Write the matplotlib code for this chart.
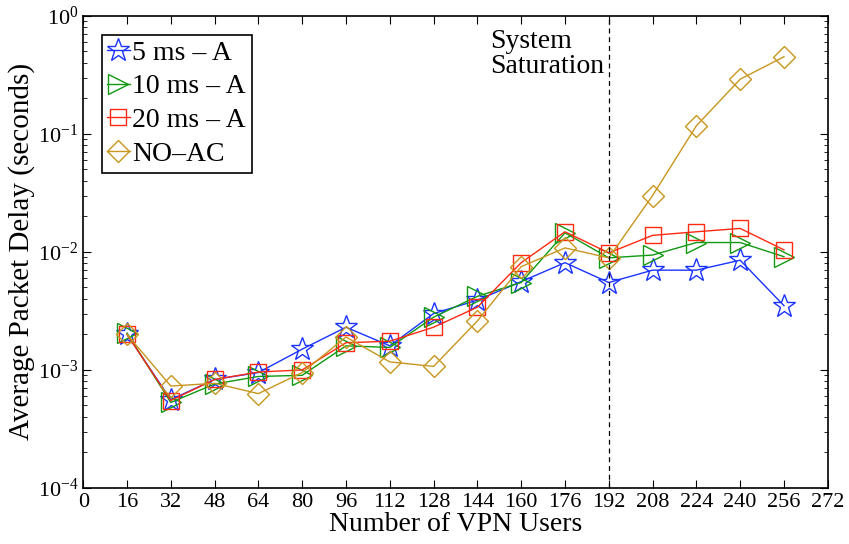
import numpy as np
import matplotlib.pyplot as plt

plt.rcParams['font.family'] = ['Liberation Serif', 'DejaVu Serif']
plt.rcParams['mathtext.fontset'] = 'stix'

# data
users = [16, 32, 48, 64, 80, 96, 112, 128, 144, 160, 176, 192, 208, 224, 240, 256]
delay_5ms = [2.0e-3, 5.6e-4, 8.3e-4, 9.5e-4, 1.5e-3, 2.3e-3, 1.6e-3, 3.0e-3, 3.9e-3,
             5.6e-3, 8.1e-3, 5.5e-3, 7.0e-3, 7.0e-3, 8.5e-3, 3.5e-3]
delay_10ms = [2.05e-3, 5.3e-4, 7.6e-4, 8.8e-4, 9.0e-4, 1.6e-3, 1.55e-3, 2.8e-3, 4.2e-3,
              5.5e-3, 1.45e-2, 8.9e-3, 9.4e-3, 1.2e-2, 1.2e-2, 9.1e-3]
delay_20ms = [2.0e-3, 5.5e-4, 8.3e-4, 9.6e-4, 1.0e-3, 1.7e-3, 1.75e-3, 2.3e-3, 3.4e-3,
              8.1e-3, 1.48e-2, 9.8e-3, 1.38e-2, 1.48e-2, 1.58e-2, 1.04e-2]
delay_noac = [2.0e-3, 7.3e-4, 7.7e-4, 6.3e-4, 9.5e-4, 1.9e-3, 1.17e-3, 1.07e-3, 2.6e-3,
              7.5e-3, 1.08e-2, 8.9e-3, 3.0e-2, 0.117, 0.29, 0.45]
xticks = list(range(0, 273, 16))

fig = plt.figure(figsize=(8.49, 5.44), dpi=100)
ax = fig.add_axes([0.098, 0.103, 0.877, 0.868])

ax.plot(users, delay_5ms, color='#1a33ff', marker='*', markersize=17, markerfacecolor='none',
        markeredgewidth=1.0, linewidth=1.0, label='5 ms \u2013 A')
ax.plot(users, delay_10ms, color='#119911', marker='>', markersize=14, markerfacecolor='none',
        markeredgewidth=1.0, linewidth=1.0, label='10 ms \u2013 A')
ax.plot(users, delay_20ms, color='#ff2a10', marker='s', markersize=12, markerfacecolor='none',
        markeredgewidth=1.0, linewidth=1.0, label='20 ms \u2013 A')
ax.plot(users, delay_noac, color='#c8961e', marker='D', markersize=11, markerfacecolor='none',
        markeredgewidth=1.0, linewidth=1.0, label='NO\u2013AC')

ax.axvline(192, color='black', linestyle='--', linewidth=0.9, dashes=(4, 3))
ax.text(148.5, 0.78, 'System\nSaturation', ha='left', va='top', fontsize=20, linespacing=1.0)

ax.set_yscale('log')
ax.set_ylim(1e-4, 1)
ax.set_xlim(0, 272)
ax.set_xticks(xticks)
ax.tick_params(which='both', direction='in', top=True, right=True, labelsize=16)
ax.tick_params(which='major', length=6)
ax.tick_params(which='minor', length=3)
ax.set_xlabel('Number of VPN Users', fontsize=20, labelpad=0)
ax.set_ylabel('Average Packet Delay (seconds)', fontsize=21, labelpad=2)
for s in ax.spines.values():
    s.set_linewidth(1.2)

leg = ax.legend(loc='upper left', bbox_to_anchor=(0.025, 0.96), fontsize=20, fancybox=False,
                edgecolor='black', framealpha=1, handlelength=0.8, handletextpad=0.1,
                borderpad=0.2, labelspacing=0.3, borderaxespad=0)
leg.get_frame().set_linewidth(1.2)

fig.savefig('out.png', dpi=100)
